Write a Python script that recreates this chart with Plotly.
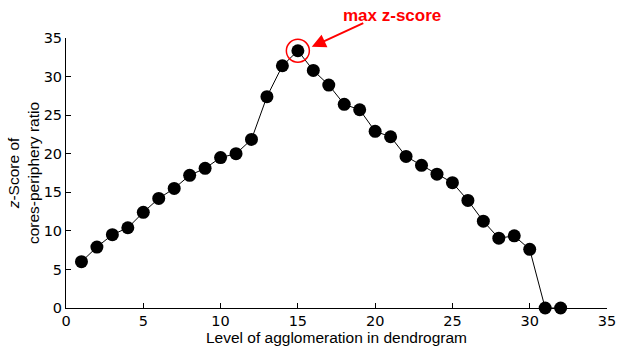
import plotly.graph_objects as go

levels = list(range(1, 33))
zscores = [6.0, 7.9, 9.5, 10.4, 12.4, 14.2, 15.5, 17.2, 18.1, 19.5, 20.0, 21.85,
           27.4, 31.4, 33.35, 30.8, 28.9, 26.4, 25.7, 22.9, 22.2, 19.65, 18.5,
           17.35, 16.25, 13.95, 11.25, 9.05, 9.35, 7.6, 0.0, 0.0]
xticks = [0, 5, 10, 15, 20, 25, 30, 35]
yticks = [0, 5, 10, 15, 20, 25, 30, 35]

imax = max(range(len(zscores)), key=lambda i: zscores[i])
xmax, ymax = levels[imax], zscores[imax]

fig = go.Figure()
fig.add_trace(go.Scatter(
    x=levels, y=zscores, mode="lines+markers",
    line=dict(color="black", width=1),
    marker=dict(color="black", size=13),
    cliponaxis=False, showlegend=False,
))

fam = "Liberation Sans"
font_tick = dict(family="DejaVu Sans", size=14.5, color="black")
fig.update_layout(
    width=617, height=346,
    margin=dict(l=66, r=10, t=38, b=38),
    plot_bgcolor="white", paper_bgcolor="white",
    xaxis=dict(range=[0, 35], tickvals=xticks, ticks="inside", ticklen=5,
               tickcolor="black", showline=True, linecolor="black", linewidth=1,
               showgrid=False, zeroline=False, tickfont=font_tick, automargin=False,
               title=dict(text="Level of agglomeration in dendrogram",
                          font=dict(family=fam, size=15.5, color="black"),
                          standoff=2)),
    yaxis=dict(range=[0, 35], tickvals=yticks, ticks="inside", ticklen=5,
               tickcolor="black", showline=True, linecolor="black", linewidth=1,
               showgrid=False, zeroline=False, tickfont=font_tick, automargin=False,
               title=dict(text="<i>z</i>-Score of<br>cores-periphery ratio",
                          font=dict(family=fam, size=15.5, color="black"),
                          standoff=0)),
)

# circle around max point
fig.add_shape(type="circle", xref="x", yref="y", xsizemode="pixel", ysizemode="pixel",
              xanchor=xmax, yanchor=ymax, x0=-11.5, x1=11.5, y0=-11.5, y1=11.5,
              line=dict(color="red", width=1.5))

# arrow
fig.add_annotation(x=xmax + 0.9, y=ymax + 0.5, xref="x", yref="y", text="",
                   font=dict(size=1), borderpad=0,
                   showarrow=True, arrowhead=2, arrowsize=1.4, arrowwidth=2,
                   arrowcolor="red", ax=52, ay=-24)
fig.add_annotation(x=21.1, y=1.085, xref="x", yref="paper", yanchor="middle",
                   text="<b>max z-score</b>",
                   showarrow=False, font=dict(family=fam, size=17, color="red"))

fig.write_html("out.html")
